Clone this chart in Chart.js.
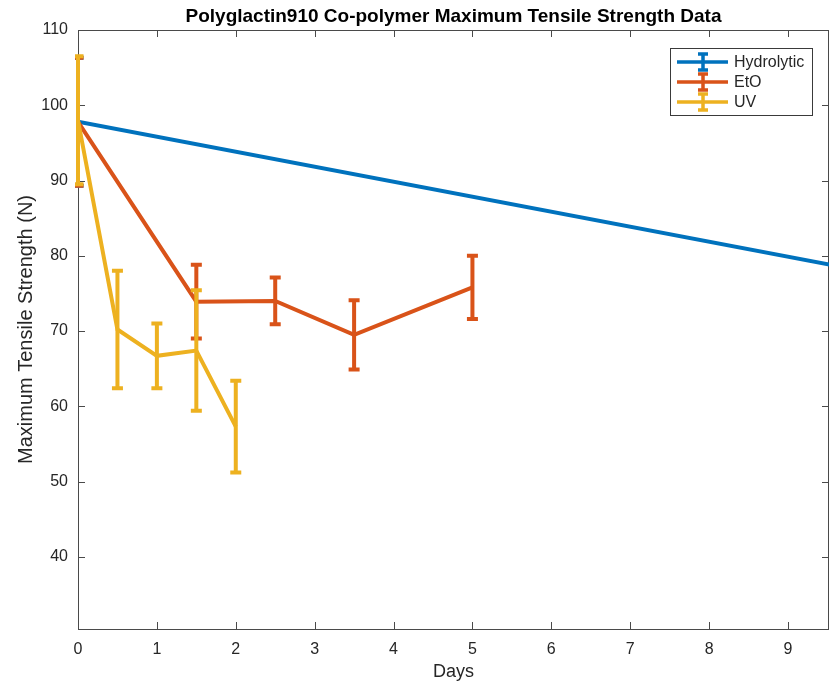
<!DOCTYPE html>
<html>
<head>
<meta charset="utf-8">
<script src="https://cdn.jsdelivr.net/npm/chart.js@4"></script>
<style>
  html, body { margin: 0; padding: 0; background: #fff; }
  #wrap { width: 837px; height: 684px; }
</style>
</head>
<body>
<div id="wrap"><canvas id="tensileChart" width="837" height="684"></canvas></div>
<script>
// Tensile strength data (N)
const chartTitle = 'Polyglactin910 Co-polymer Maximum Tensile Strength Data';
const seriesNames = ['Hydrolytic', 'EtO', 'UV'];
const seriesColors = ['#0072BD', '#D95319', '#EDB120'];

const hydroDays = [0, 14];
const hydroMean = [97.8, 69.9];
const hydroErr = [8.5, 4.0];

const etoDays = [0, 1.5, 2.5, 3.5, 5];
const etoMean = [97.8, 73.9, 74.0, 69.5, 75.8];
const etoErr = [8.5, 4.9, 3.1, 4.6, 4.2];

const uvDays = [0, 0.5, 1, 1.5, 2];
const uvMean = [98.0, 70.2, 66.7, 67.4, 57.3];
const uvErr = [8.5, 7.8, 4.3, 8.0, 6.1];

const xTicks = [0, 1, 2, 3, 4, 5, 6, 7, 8, 9];
const yTicks = [40, 50, 60, 70, 80, 90, 100, 110];

const FONT = '"Liberation Sans", Arial, Helvetica, sans-serif';
const AXIS_COLOR = '#4a4a4a';
const TEXT_COLOR = '#262626';

function toPoints(xs, ys) {
    return xs.map((x, i) => ({ x: x, y: ys[i] }));
}

const errors = [hydroErr, etoErr, uvErr];
const means = [hydroMean, etoMean, uvMean];

// vertical error bars with caps, drawn right after each dataset's line
const errorBarPlugin = {
    id: 'errorBars',
    afterDatasetDraw(chart, args) {
        const i = args.index;
        const meta = args.meta;
        const yScale = chart.scales.y;
        const area = chart.chartArea;
        const ctx = chart.ctx;
        ctx.save();
        ctx.beginPath();
        ctx.rect(area.left - 3, area.top - 3, area.right - area.left + 6, area.bottom - area.top + 6);
        ctx.clip();
        ctx.strokeStyle = seriesColors[i];
        ctx.lineWidth = 4;
        ctx.lineCap = 'butt';
        meta.data.forEach((pt, j) => {
            const top = yScale.getPixelForValue(means[i][j] + errors[i][j]);
            const bot = yScale.getPixelForValue(means[i][j] - errors[i][j]);
            ctx.beginPath();
            ctx.moveTo(pt.x, top);
            ctx.lineTo(pt.x, bot);
            ctx.moveTo(pt.x - 5.5, top);
            ctx.lineTo(pt.x + 5.5, top);
            ctx.moveTo(pt.x - 5.5, bot);
            ctx.lineTo(pt.x + 5.5, bot);
            ctx.stroke();
        });
        ctx.restore();
    }
};

// MATLAB style box with inward ticks, title centred over the axes
const boxPlugin = {
    id: 'boxAxes',
    beforeDatasetsDraw(chart) {
        const { ctx, chartArea: a, scales } = chart;
        ctx.save();
        ctx.strokeStyle = AXIS_COLOR;
        ctx.lineWidth = 1;
        ctx.strokeRect(a.left + 0.5, a.top + 0.5, a.right - a.left - 1, a.bottom - a.top);
        ctx.beginPath();
        xTicks.forEach(v => {
            const px = Math.round(scales.x.getPixelForValue(v)) + 0.5;
            ctx.moveTo(px, a.bottom); ctx.lineTo(px, a.bottom - 7);
            ctx.moveTo(px, a.top); ctx.lineTo(px, a.top + 7);
        });
        yTicks.forEach(v => {
            const py = Math.round(scales.y.getPixelForValue(v)) + 0.5;
            ctx.moveTo(a.left, py); ctx.lineTo(a.left + 7, py);
            ctx.moveTo(a.right, py); ctx.lineTo(a.right - 7, py);
        });
        ctx.stroke();

        ctx.fillStyle = '#000';
        ctx.font = 'bold 19px ' + FONT;
        ctx.textAlign = 'center';
        ctx.textBaseline = 'middle';
        ctx.fillText(chartTitle, (a.left + a.right) / 2, 17);
        ctx.restore();
    }
};

// legend box in the upper right corner
const legendPlugin = {
    id: 'boxLegend',
    afterDraw(chart) {
        const ctx = chart.ctx;
        const a = chart.chartArea;
        const w = 142, h = 67;
        const x0 = a.right - 17 - w, y0 = a.top + 18;
        ctx.save();
        ctx.fillStyle = '#fff';
        ctx.fillRect(x0, y0, w, h);
        ctx.strokeStyle = '#3a3a3a';
        ctx.lineWidth = 1;
        ctx.strokeRect(x0 + 0.5, y0 + 0.5, w, h);
        ctx.font = '16px ' + FONT;
        ctx.textBaseline = 'middle';
        seriesNames.forEach((name, i) => {
            const cy = y0 + 14 + i * 20;
            const cx = x0 + 33;
            ctx.strokeStyle = seriesColors[i];
            ctx.lineWidth = 3.5;
            ctx.beginPath();
            ctx.moveTo(x0 + 7, cy); ctx.lineTo(x0 + 58, cy);
            ctx.moveTo(cx, cy - 8); ctx.lineTo(cx, cy + 8);
            ctx.moveTo(cx - 5, cy - 8); ctx.lineTo(cx + 5, cy - 8);
            ctx.moveTo(cx - 5, cy + 8); ctx.lineTo(cx + 5, cy + 8);
            ctx.stroke();
            ctx.fillStyle = TEXT_COLOR;
            ctx.fillText(name, x0 + 64, cy + 1);
        });
        ctx.restore();
    }
};

const ctx = document.getElementById('tensileChart').getContext('2d');
const dataSets = [
    toPoints(hydroDays, hydroMean),
    toPoints(etoDays, etoMean),
    toPoints(uvDays, uvMean)
];

new Chart(ctx, {
    type: 'line',
    data: {
        datasets: dataSets.map((pts, i) => ({
            label: seriesNames[i],
            data: pts,
            borderColor: seriesColors[i],
            backgroundColor: seriesColors[i],
            borderWidth: 4,
            pointRadius: 0,
            tension: 0,
            fill: false,
            order: 3 - i
        }))
    },
    options: {
        responsive: false,
        animation: false,
        layout: { padding: { left: 0, right: 8, top: 30, bottom: 0 } },
        plugins: {
            legend: { display: false },
            tooltip: { enabled: false },
            title: { display: false }
        },
        scales: {
            x: {
                type: 'linear',
                min: 0,
                max: 9.52,
                grid: { display: false, drawTicks: false },
                border: { display: false },
                afterBuildTicks: s => { s.ticks = xTicks.map(v => ({ value: v })); },
                afterFit: s => { s.height = 55; },
                ticks: {
                    color: TEXT_COLOR,
                    padding: 11,
                    maxRotation: 0,
                    font: { family: FONT, size: 16 }
                },
                title: {
                    display: true,
                    text: 'Days',
                    color: TEXT_COLOR,
                    font: { family: FONT, size: 18 },
                    padding: { top: 0, bottom: 1 }
                }
            },
            y: {
                type: 'linear',
                min: 30.4,
                max: 110,
                grid: { display: false, drawTicks: false },
                border: { display: false },
                afterBuildTicks: s => { s.ticks = yTicks.map(v => ({ value: v })); },
                afterFit: s => { s.width = 78; },
                ticks: {
                    color: TEXT_COLOR,
                    padding: 10,
                    font: { family: FONT, size: 16 }
                },
                title: {
                    display: true,
                    text: 'Maximum Tensile Strength (N)',
                    color: TEXT_COLOR,
                    font: { family: FONT, size: 20 },
                    padding: { top: 14, bottom: 0 }
                }
            }
        }
    },
    plugins: [boxPlugin, errorBarPlugin, legendPlugin]
});
</script>
</body>
</html>
